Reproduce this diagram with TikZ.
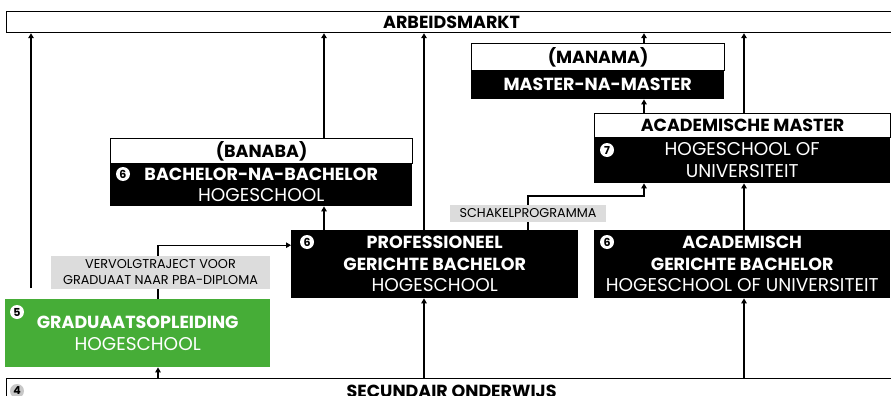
\documentclass[tikz,border=0pt]{standalone}
\usepackage{fontspec}
\setmainfont{Poppins}
\usetikzlibrary{arrows.meta}
\definecolor{gradgreen}{HTML}{46AD37}
\definecolor{taggrey}{HTML}{DCDCDC}
\definecolor{numgrey}{HTML}{C8C8C8}

\begin{document}
\begin{tikzpicture}[x=1pt,y=-1pt,
  man/.style={rectangle,inner sep=0pt,anchor=north west,align=center},
  hd/.style={man,draw,line width=1.2pt,fill=white,font=\fontsize{17.5}{18}\selectfont\bfseries},
  blk/.style={man,fill=black,text=white,font=\fontsize{18.5}{21.5}\selectfont},
  big/.style={font=\fontsize{17.5}{21.5}\selectfont\bfseries},
  tag/.style={rectangle,fill=taggrey,inner sep=0pt,align=center,font=\fontsize{12.8}{16}\selectfont},
  nr/.style={circle,fill=white,text=black,inner sep=0pt,minimum size=14pt,font=\fontsize{11}{11}\selectfont\bfseries},
  up/.style={-{Triangle[length=5pt,width=5.5pt]},line width=1.2pt}]
    \useasboundingbox (0,0) rectangle (891,396);
    % Columns of the connectors
    \coordinate (c1) at (31,0);
    \coordinate (c2) at (158,0);
    \coordinate (c3) at (324,0);
    \coordinate (c4) at (424,0);
    \coordinate (c5) at (528,0);
    \coordinate (c6) at (644,0);
    \coordinate (c7) at (744,0);
    % Top and bottom
    \node[hd,minimum width=890pt,minimum height=21pt] (markt) at (6,11) {ARBEIDSMARKT};
    \node[hd,minimum width=890pt,minimum height=26pt] (sec) at (6,378) {SECUNDAIR ONDERWIJS};
    \node[nr,fill=numgrey] (n4) at (17,391) {4};
    % Masters
    \node[hd,minimum width=253pt,minimum height=27pt] (manamahd) at (471,43) {(MANAMA)};
    \node[blk,big,minimum width=253pt,minimum height=29pt] (manama) at (471,70) {MASTER-NA-MASTER};
    \node[hd,minimum width=296pt,minimum height=24pt] (amasterhd) at (594,113) {ACADEMISCHE MASTER};
    \node[blk,minimum width=296pt,minimum height=46pt] (amaster) at (594,137) {HOGESCHOOL OF\\UNIVERSITEIT};
    \node[nr] (n7) at (607,150) {7};
    % Bachelors
    \node[hd,minimum width=302pt,minimum height=25pt] (banabahd) at (110,138) {(BANABA)};
    \node[blk,minimum width=302pt,minimum height=43pt] (banaba) at (110,163)
      {{\bfseries\fontsize{17.5}{21.5}\selectfont BACHELOR-NA-BACHELOR}\\HOGESCHOOL};
    \node[nr] (n6a) at (123,174) {6};
    \node[blk,minimum width=287pt,minimum height=68pt] (pba) at (291,230)
      {{\bfseries\fontsize{17.5}{21.5}\selectfont PROFESSIONEEL}\\{\bfseries\fontsize{17.5}{21.5}\selectfont GERICHTE BACHELOR}\\HOGESCHOOL};
    \node[nr] (n6b) at (307,242) {6};
    \node[blk,minimum width=296pt,minimum height=68pt] (aba) at (594,230)
      {{\bfseries\fontsize{17.5}{21.5}\selectfont ACADEMISCH}\\{\bfseries\fontsize{17.5}{21.5}\selectfont GERICHTE BACHELOR}\\HOGESCHOOL OF UNIVERSITEIT};
    \node[nr] (n6c) at (607,242) {6};
    \node[blk,fill=gradgreen,minimum width=265pt,minimum height=68pt] (grad) at (5,299)
      {{\bfseries\fontsize{17.5}{21.5}\selectfont GRADUAATSOPLEIDING}\\HOGESCHOOL};
    \node[nr] (n5) at (17,312) {5};
    % Connectors
    \draw[up] ([yshift=11pt]grad.north -| c1) -- (markt.south -| c1);
    \draw[up] (banabahd.north -| c3) -- (markt.south -| c3);
    \draw[up] (pba.north -| c3) -- (banaba.south -| c3);
    \draw[up] (pba.north -| c4) -- (markt.south -| c4);
    \draw[up] (sec.north -| c4) -- (pba.south -| c4);
    \draw[up] (sec.north -| c2) -- (grad.south -| c2);
    \draw[up] (grad.north -| c2) |- ([yshift=19pt]pba.west);
    \draw[up] (pba.north -| c5) -- ++(0,-34) -| (amaster.south -| c6);
    \draw[up] (aba.north -| c7) -- (amaster.south -| c7);
    \draw[up] (sec.north -| c7) -- (aba.south -| c7);
    \draw[up] (amasterhd.north -| c7) -- (markt.south -| c7);
    \draw[up] (amasterhd.north -| c6) -- (manama.south -| c6);
    \draw[up] (manamahd.north -| c6) -- (markt.south -| c6);
    % Labels on the connectors
    \node[tag,minimum width=219pt,minimum height=33pt] (vervolg) at (160.5,272.5)
      {VERVOLGTRAJECT VOOR\\GRADUAAT NAAR PBA-DIPLOMA};
    \node[tag,minimum width=156pt,minimum height=17pt] (schakel) at (528,213.5) {SCHAKELPROGRAMMA};
\end{tikzpicture}
\end{document}
